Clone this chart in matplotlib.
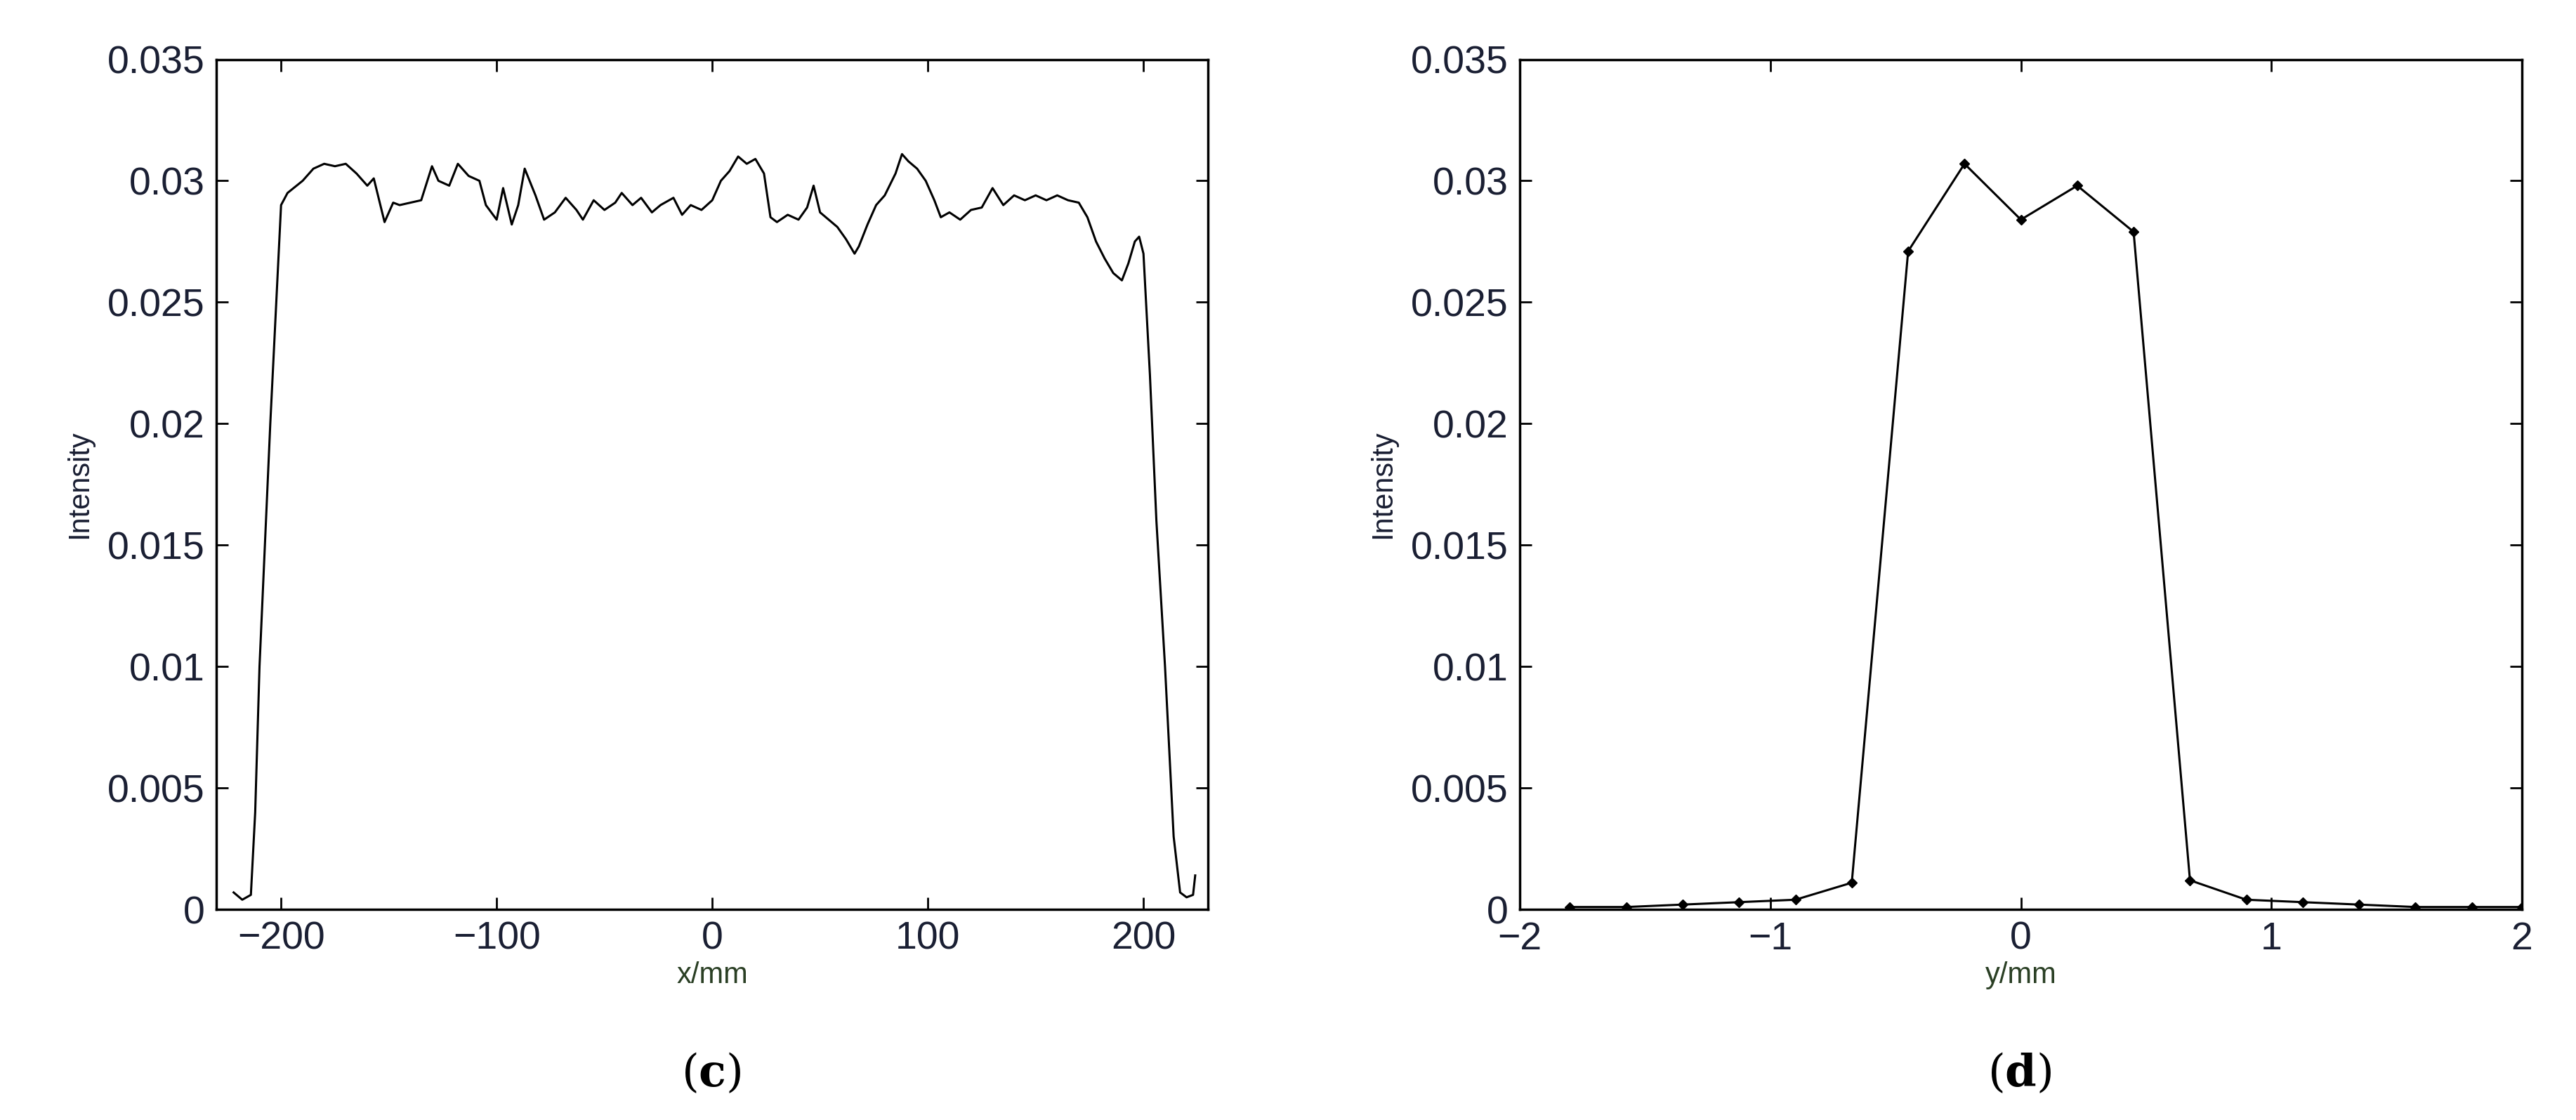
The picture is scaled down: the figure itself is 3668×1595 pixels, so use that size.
import numpy as np
import matplotlib.pyplot as plt

plt.rcParams['font.family'] = ['Liberation Sans', 'DejaVu Sans']
plt.rcParams['mathtext.fontset'] = 'dejavuserif'

# (c) intensity along x
x_c = [-222, -218, -214, -212, -210, -205, -200, -197, -190, -185, -180, -175, -170, -165, -160, -157,
       -152, -148, -145, -140, -135, -130, -127, -122, -118, -113, -108, -105, -100, -97, -93, -90, -87,
       -82, -78, -73, -68, -63, -60, -55, -50, -45, -42, -37, -33, -28, -24, -18, -14, -10, -5, 0, 4, 8,
       12, 16, 20, 24, 27, 30, 35, 40, 44, 47, 50, 54, 58, 62, 66, 68, 72, 76, 80, 85, 88, 91, 95, 99,
       103, 106, 110, 115, 120, 125, 130, 135, 140, 145, 150, 155, 160, 165, 170, 174, 178, 182, 186,
       190, 193, 196, 198, 200, 203, 206, 210, 214, 217, 220, 223, 224]
i_c = [0.0007, 0.0004, 0.0006, 0.004, 0.010, 0.020, 0.0290, 0.0295, 0.0300, 0.0305, 0.0307, 0.0306,
       0.0307, 0.0303, 0.0298, 0.0301, 0.0283, 0.0291, 0.0290, 0.0291, 0.0292, 0.0306, 0.0300, 0.0298,
       0.0307, 0.0302, 0.0300, 0.0290, 0.0284, 0.0297, 0.0282, 0.0290, 0.0305, 0.0294, 0.0284, 0.0287,
       0.0293, 0.0288, 0.0284, 0.0292, 0.0288, 0.0291, 0.0295, 0.0290, 0.0293, 0.0287, 0.0290, 0.0293,
       0.0286, 0.0290, 0.0288, 0.0292, 0.0300, 0.0304, 0.0310, 0.0307, 0.0309, 0.0303, 0.0285, 0.0283,
       0.0286, 0.0284, 0.0289, 0.0298, 0.0287, 0.0284, 0.0281, 0.0276, 0.0270, 0.0273, 0.0282, 0.0290,
       0.0294, 0.0303, 0.0311, 0.0308, 0.0305, 0.0300, 0.0292, 0.0285, 0.0287, 0.0284, 0.0288, 0.0289,
       0.0297, 0.0290, 0.0294, 0.0292, 0.0294, 0.0292, 0.0294, 0.0292, 0.0291, 0.0285, 0.0275, 0.0268,
       0.0262, 0.0259, 0.0266, 0.0275, 0.0277, 0.0270, 0.0220, 0.0160, 0.0100, 0.003, 0.0007, 0.0005,
       0.0006, 0.0014]

# (d) intensity along y
y_d = [-1.8, -1.575, -1.35, -1.125, -0.9, -0.675, -0.45, -0.225, 0.0, 0.225, 0.45, 0.675, 0.9, 1.125,
       1.35, 1.575, 1.8, 2.0]
i_d = [0.0001, 0.0001, 0.0002, 0.0003, 0.0004, 0.0011, 0.0271, 0.0307, 0.0284, 0.0298, 0.0279, 0.0012,
       0.0004, 0.0003, 0.0002, 0.0001, 0.0001, 0.0001]

tick_col = '#1a1f33'
lab_col = '#2a3f24'

fig = plt.figure(figsize=(36.68, 15.95), dpi=100)
ax1 = fig.add_axes([0.084, 0.188, 0.385, 0.759])
ax2 = fig.add_axes([0.590, 0.188, 0.389, 0.759])

ax1.plot(x_c, i_c, color='black', linewidth=2.2)
ax1.set_xlim(-230, 230)
ax1.set_xticks([-200, -100, 0, 100, 200])
ax1.set_xticklabels(['\u2212200', '\u2212100', '0', '100', '200'])
ax1.set_xlabel('x/mm', fontsize=30, color=lab_col, labelpad=4)

ax2.plot(y_d, i_d, color='black', linewidth=2.2, marker='D', markersize=7)
ax2.set_xlim(-2, 2)
ax2.set_xticks([-2, -1, 0, 1, 2])
ax2.set_xticklabels(['\u22122', '\u22121', '0', '1', '2'])
ax2.set_xlabel('y/mm', fontsize=30, color=lab_col, labelpad=4)

for ax in (ax1, ax2):
    ax.set_ylim(0, 0.035)
    ax.set_yticks(np.arange(0, 0.0351, 0.005))
    ax.set_yticklabels(['0', '0.005', '0.01', '0.015', '0.02', '0.025', '0.03', '0.035'])
    ax.set_ylabel('Intensity', fontsize=30, color=tick_col, labelpad=14)
    ax.tick_params(direction='in', top=True, right=True, length=12, width=2,
                   labelsize=40, labelcolor=tick_col, pad=12)
    for s in ax.spines.values():
        s.set_linewidth(2.5)

fig.text(0.276, 0.03, r'($\mathbf{c}$)', fontsize=46, family='serif', ha='center')
fig.text(0.784, 0.03, r'($\mathbf{d}$)', fontsize=46, family='serif', ha='center')

fig.savefig('out.png', dpi=100)
